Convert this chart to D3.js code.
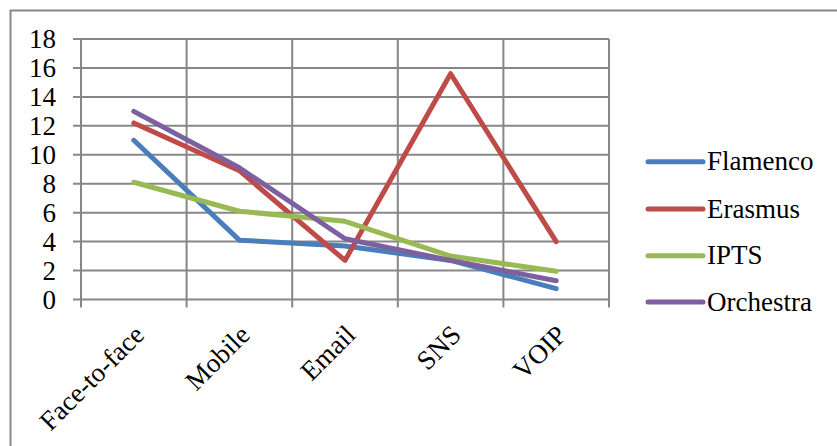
<!DOCTYPE html>
<html>
<head>
<meta charset="utf-8">
<script src="https://cdn.jsdelivr.net/npm/d3@7/dist/d3.min.js"></script>
<style>
  html, body { margin: 0; padding: 0; background: #fff; }
  svg { display: block; }
</style>
</head>
<body>
<svg id="chart" width="837" height="446" font-family="'Liberation Serif', 'Times New Roman', serif"></svg>
<script>
const categories = ["Face-to-face", "Mobile", "Email", "SNS", "VOIP"];
const seriesNames = ["Flamenco", "Erasmus", "IPTS", "Orchestra"];
const flamenco  = [11.0, 4.1, 3.7, 2.7, 0.75];
const erasmus   = [12.2, 8.9, 2.7, 15.6, 4.0];
const ipts      = [8.1, 6.1, 5.4, 3.0, 1.95];
const orchestra = [13.0, 9.1, 4.2, 2.7, 1.3];
const yTicks = [0, 2, 4, 6, 8, 10, 12, 14, 16, 18];
const colors = ["#4A7EBB", "#BE4B48", "#98B954", "#7D60A0"];

const seriesValues = [flamenco, erasmus, ipts, orchestra];

const svg = d3.select("#chart");
const pLeft = 81, pRight = 609, pTop = 39, pBottom = 299.5;
const gridColor = "#878787";
const fontSize = 27;

// outer chart border (left and top visible)
svg.append("path")
  .attr("d", "M10.5,446 L10.5,10.5 L837,10.5")
  .attr("fill", "none").attr("stroke", gridColor).attr("stroke-width", 2);

const x = d3.scaleBand().domain(categories).range([pLeft, pRight]).padding(0);
const y = d3.scaleLinear().domain([0, 18]).range([pBottom, pTop]);

// horizontal gridlines + y ticks
svg.append("g").selectAll("line").data(yTicks).join("line")
  .attr("x1", pLeft - 8).attr("x2", pRight)
  .attr("y1", d => y(d)).attr("y2", d => y(d))
  .attr("stroke", gridColor).attr("stroke-width", 2);

// vertical boundaries
const bounds = categories.map(c => x(c)).concat([x(categories[categories.length - 1]) + x.bandwidth()]);
svg.append("g").selectAll("line").data(bounds).join("line")
  .attr("x1", d => d).attr("x2", d => d)
  .attr("y1", pTop).attr("y2", pBottom + 8)
  .attr("stroke", gridColor).attr("stroke-width", 2);

// y labels
svg.append("g").selectAll("text").data(yTicks).join("text")
  .attr("x", 56).attr("y", d => y(d) + 9)
  .attr("text-anchor", "end")
  .attr("font-size", fontSize)
  .attr("fill", "#000")
  .text(d => d);

// x labels
svg.append("g").selectAll("text").data(categories).join("text")
  .attr("transform", d => `translate(${x(d) + x.bandwidth() / 2 + 12},${pBottom + 37}) rotate(-45)`)
  .attr("text-anchor", "end")
  .attr("font-size", fontSize)
  .attr("fill", "#000")
  .text(d => d);

// lines
const line = d3.line()
  .x((d, i) => x(categories[i]) + x.bandwidth() / 2)
  .y(d => y(d));

svg.append("g").selectAll("path").data(seriesValues).join("path")
  .attr("d", d => line(d))
  .attr("fill", "none")
  .attr("stroke", (d, i) => colors[i])
  .attr("stroke-width", 5)
  .attr("stroke-linecap", "round")
  .attr("stroke-linejoin", "round");

// legend
const legendY = [161.7, 209, 255.7, 302];
const lg = svg.append("g").selectAll("g").data(seriesNames).join("g")
  .attr("transform", (d, i) => `translate(0,${legendY[i]})`);
lg.append("line")
  .attr("x1", 648).attr("x2", 703).attr("y1", 0).attr("y2", 0)
  .attr("stroke", (d, i) => colors[i])
  .attr("stroke-width", 5).attr("stroke-linecap", "round");
lg.append("text")
  .attr("x", 707).attr("y", 8.5)
  .attr("font-size", fontSize)
  .attr("fill", "#000")
  .text(d => d);
</script>
</body>
</html>
